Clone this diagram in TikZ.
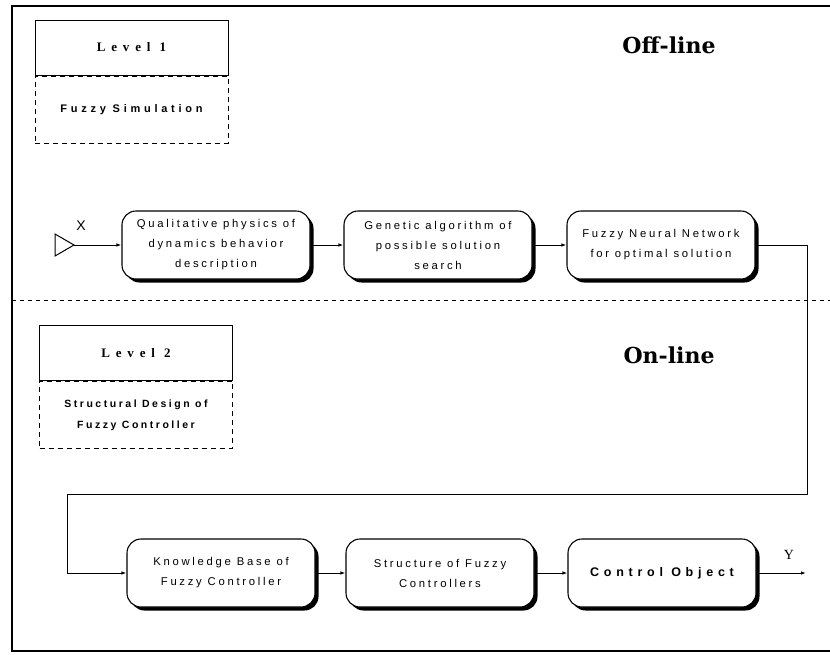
\documentclass[tikz,border=0pt]{standalone}
\usepackage{fontspec}
\setmainfont{Liberation Sans}
\newfontfamily\boxfont[LetterSpace=24]{Liberation Sans}
\newfontfamily\descfont[LetterSpace=24]{Liberation Sans}
\newfontfamily\simfont[LetterSpace=34]{Liberation Sans}
\newfontfamily\objfont[LetterSpace=38]{Liberation Sans}
\newfontfamily\lvlfont[LetterSpace=45]{Liberation Serif}
\newfontfamily\sigfont{Liberation Serif}
\newfontfamily\titlefont{DejaVu Serif}
\usetikzlibrary{arrows.meta,shadows}
\tikzset{
  procbox/.style={draw, line width=1.1pt, rounded corners=14pt, fill=white,
    minimum width=188pt, minimum height=68pt, align=center,
    font=\boxfont\fontsize{11.3}{20}\selectfont,
    drop shadow={shadow xshift=3.5pt, shadow yshift=-3.5pt, fill=black, opacity=1}},
  lvlhead/.style={draw, line width=1pt, minimum width=193pt, minimum height=55pt,
    font=\lvlfont\bfseries\fontsize{13}{15}\selectfont},
  lvldesc/.style={draw, dashed, dash pattern=on 5pt off 4pt, line width=0.8pt,
    minimum width=193pt, minimum height=67pt, align=center,
    font=\descfont\bfseries\fontsize{10.5}{21}\selectfont},
  flow/.style={line width=1pt, -{Latex[length=5pt,width=3.5pt]}},
  title/.style={font=\titlefont\bfseries\fontsize{22}{26}\selectfont},
  sig/.style={font=\fontsize{14}{16}\selectfont}
}
\begin{document}
\begin{tikzpicture}[x=1pt,y=-1pt]
\useasboundingbox (0,0) rectangle (830,654);
\draw[line width=1.2pt] (830,6) -- (12,6) -- (12,651) -- (830,651);
% separator
\draw[line width=0.8pt, dash pattern=on 4pt off 4pt] (12,300) -- (830,300);

% Level 1
\node[lvlhead] (l1h) at (131.5,47.5) {Level 1};
\node[lvldesc, anchor=north, font=\simfont\bfseries\fontsize{11}{21}\selectfont] (l1d) at (l1h.south) {Fuzzy Simulation};
% Level 2
\node[lvlhead] (l2h) at (136,353) {Level 2};
\node[lvldesc, anchor=north] (l2d) at (l2h.south) {Structural Design of\\Fuzzy Controller};

\node[title] (off) at (669,45) {Off-line};
\node[title] (on) at (669,355) {On-line};

% row 1
\node[procbox] (a) at (216,245) {Qualitative physics of\\dynamics behavior\\description};
\node[procbox] (b) at (438,245) {Genetic algorithm of\\possible solution\\search};
\node[procbox] (c) at (661,245) {Fuzzy Neural Network\\for optimal solution};
% row 2
\node[procbox] (d) at (221,573) {Knowledge Base of\\Fuzzy Controller};
\node[procbox] (e) at (440,573) {Structure of Fuzzy\\Controllers};
\node[procbox, font=\objfont\bfseries\fontsize{12.5}{15}\selectfont] (f) at (662,573) {Control Object};

% input
\coordinate (tip) at (74,245);
\draw[line width=1pt, line join=miter] (55,234) -- (tip) -- (55,256) -- cycle;
\node[sig] (xl) at (81,226) {X};
\draw[flow] (tip) -- (a.west);
\draw[flow] (a.east) -- (b.west);
\draw[flow] (b.east) -- (c.west);
\coordinate (k1) at (807,245);
\coordinate (k2) at (807,494);
\coordinate (k3) at (67,494);
\coordinate (k4) at (67,573);
\draw[flow] (c.east) -- (k1) -- (k2) -- (k3) -- (k4) -- (d.west);
\draw[flow] (d.east) -- (e.west);
\draw[flow] (e.east) -- (f.west);
\coordinate (yout) at (806,573);
\draw[flow] (f.east) -- (yout);
\node[sig, font=\sigfont\fontsize{14}{16}\selectfont] (yl) at (789,555) {Y};
\end{tikzpicture}
\end{document}
